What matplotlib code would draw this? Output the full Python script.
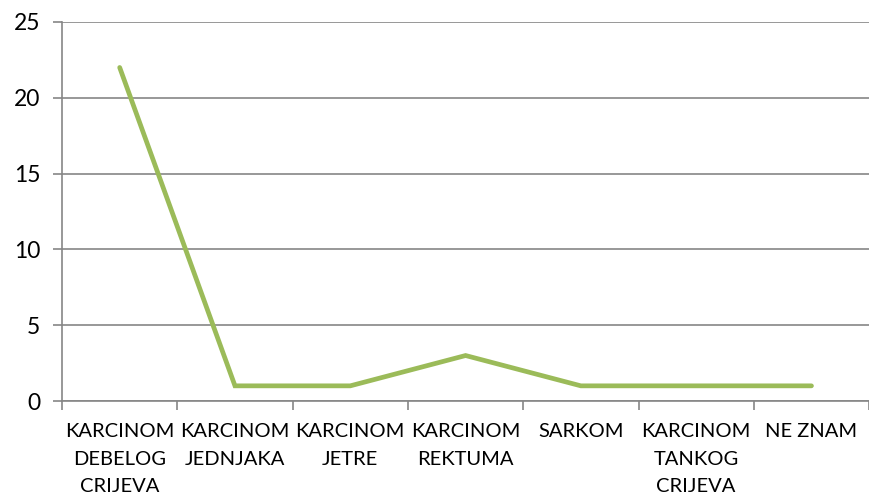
import matplotlib.pyplot as plt
import numpy as np

categories = ["KARCINOM\nDEBELOG\nCRIJEVA", "KARCINOM\nJEDNJAKA", "KARCINOM\nJETRE",
              "KARCINOM\nREKTUMA", "SARKOM", "KARCINOM\nTANKOG\nCRIJEVA", "NE ZNAM"]
values = [22, 1, 1, 3, 1, 1, 1]
y_ticks = [0, 5, 10, 15, 20, 25]

plt.rcParams['font.family'] = ['Lato', 'DejaVu Sans']
grid_color = '#868686'

fig = plt.figure(figsize=(8.7, 5), dpi=100)
ax = fig.add_axes([0.0713, 0.198, 0.9277, 0.758])

x = np.arange(len(categories))
ax.plot(x, values, color='#9BBB59', linewidth=3.4, solid_capstyle='round', solid_joinstyle='miter')

ax.set_xlim(-0.5, len(categories) - 0.5)
ax.set_ylim(0, 25)
ax.set_yticks(y_ticks)
ax.set_yticklabels([str(t) for t in y_ticks], fontsize=16.5)
ax.yaxis.grid(True, color=grid_color, linewidth=1.2)
ax.set_axisbelow(True)

ax.set_xticks(x)
ax.set_xticklabels(categories, fontsize=14.5, linespacing=1.75)
ax.set_xticks(np.arange(-0.5, len(categories)), minor=True)
ax.tick_params(axis='x', which='major', length=0, pad=16)
ax.tick_params(axis='x', which='minor', length=6.5, width=1.2, color=grid_color)
ax.tick_params(axis='y', length=6.5, width=1.2, color=grid_color, pad=9)

for side in ['top', 'right']:
    ax.spines[side].set_visible(False)
for side in ['left', 'bottom']:
    ax.spines[side].set_color(grid_color)
    ax.spines[side].set_linewidth(1.2)

fig.savefig('out.png', dpi=100)
